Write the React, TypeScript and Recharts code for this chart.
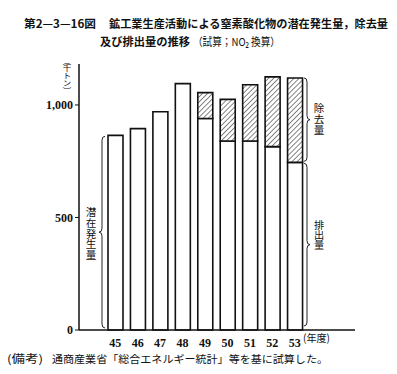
import React from "react";
import { BarChart, Bar, XAxis, YAxis } from "recharts";

// 年度（昭和）
const years = ["45", "46", "47", "48", "49", "50", "51", "52", "53"];
// 排出量（千トン）
const emission = [865, 895, 970, 1095, 940, 840, 840, 815, 745];
// 除去量（千トン）
const removal = [0, 0, 0, 0, 115, 185, 250, 310, 375];
const yTicks = [0, 500, 1000];

const data = years.map((year, i) => ({
  year,
  emission: emission[i],
  removal: removal[i],
}));

const W = 397;
const H = 374;
const PLOT_TOP = 64;
const PLOT_BOTTOM = 330;
const Y_MAX = 1182;
const toY = (v: number) => PLOT_BOTTOM - (v * (PLOT_BOTTOM - PLOT_TOP)) / Y_MAX;

const serif = "'Liberation Serif', 'DejaVu Serif', serif";
const gothic = "'Noto Sans CJK JP', 'Noto Sans', sans-serif";

// 縦の波括弧。dir=1 なら "{"、-1 なら "}"
const bracePath = (x: number, y0: number, y1: number, dir: number) => {
  const d = 3 * dir;
  const ym = (y0 + y1) / 2;
  return `M${x + d},${y0} Q${x},${y0} ${x},${y0 + 4} L${x},${ym - 4} Q${x},${ym} ${x - d},${ym} Q${x},${ym} ${x},${ym + 4} L${x},${y1 - 4} Q${x},${y1} ${x + d},${y1}`;
};

// 縦書き
const VText = ({ text, x, top, len, size }: { text: string; x: number; top: number; len: number; size: number }) => (
  <text
    x={x}
    y={top}
    textLength={len}
    lengthAdjust="spacingAndGlyphs"
    fontFamily={gothic}
    fontSize={size}
    fill="#111"
    style={{ writingMode: "vertical-rl" }}
  >
    {text}
  </text>
);

// 横書き、幅を固定
const HText = ({ text, x, y, w, size, weight = 400 }: { text: string; x: number; y: number; w: number; size: number; weight?: number }) => (
  <text
    x={x}
    y={y}
    textLength={w}
    lengthAdjust="spacingAndGlyphs"
    fontFamily={gothic}
    fontSize={size}
    fontWeight={weight}
    fill="#111"
  >
    {text}
  </text>
);

export default function App() {
  const last = years.length - 1;
  const total53 = emission[last] + removal[last];
  return (
    <div
      style={{
        position: "absolute",
        left: 0,
        top: 0,
        width: W,
        height: H,
        background: "#fff",
        overflow: "hidden",
      }}
    >
      <svg width={0} height={0} style={{ position: "absolute" }}>
        <defs>
          <pattern
            id="hatch"
            width={3.6}
            height={3.6}
            patternUnits="userSpaceOnUse"
            patternTransform="rotate(45)"
          >
            <rect width={3.6} height={3.6} fill="#fff" />
            <line x1={0} y1={0} x2={0} y2={3.6} stroke="#222" strokeWidth={1.1} />
          </pattern>
        </defs>
      </svg>

      <BarChart
        width={W}
        height={H}
        data={data}
        margin={{ top: PLOT_TOP, right: 42, bottom: 24, left: 0 }}
        barSize={15}
        style={{ position: "absolute", left: 0, top: 0 }}
      >
        <XAxis
          dataKey="year"
          height={20}
          padding={{ left: 25, right: 49 }}
          tickLine={false}
          tickMargin={2}
          axisLine={{ stroke: "#111", strokeWidth: 1.5 }}
          tick={{ fill: "#111", fontFamily: serif, fontSize: 12, fontWeight: 600 }}
        />
        <YAxis
          width={79}
          domain={[0, Y_MAX]}
          ticks={yTicks}
          interval={0}
          tickSize={4}
          tickMargin={2}
          tickFormatter={(v: number) => v.toLocaleString("en-US")}
          axisLine={{ stroke: "#111", strokeWidth: 1.5 }}
          tickLine={{ stroke: "#111" }}
          tick={{ fill: "#111", fontFamily: serif, fontSize: 12, fontWeight: 600 }}
        />
        <Bar
          dataKey="emission"
          stackId="a"
          fill="#fff"
          stroke="#111"
          strokeWidth={1.6}
          isAnimationActive={false}
        />
        <Bar
          dataKey="removal"
          stackId="a"
          fill="url(#hatch)"
          stroke="#111"
          strokeWidth={1.6}
          isAnimationActive={false}
        />
      </BarChart>

      <svg
        width={W}
        height={H}
        style={{ position: "absolute", left: 0, top: 0, pointerEvents: "none" }}
      >
        <HText text="第2—3—16図" x={24} y={28} w={72} size={11} weight={700} />
        <HText
          text="鉱工業生産活動による窒素酸化物の潜在発生量，除去量"
          x={109}
          y={28}
          w={279}
          size={11}
          weight={700}
        />
        <HText text="及び排出量の推移" x={100} y={46} w={90} size={11} weight={700} />
        <HText text="（試算；NO₂ 換算）" x={193} y={46} w={87} size={11} />

        <VText text="（千トン）" x={67} top={57} len={38} size={8.5} />

        <g fill="none" stroke="#222" strokeWidth={1}>
          <path d={bracePath(102, toY(emission[0]) + 1, PLOT_BOTTOM - 2, 1)} />
          <path d={bracePath(307, toY(total53), toY(emission[last]) - 1, -1)} />
          <path d={bracePath(307, toY(emission[last]) + 1, PLOT_BOTTOM - 4, -1)} />
        </g>

        <VText text="潜在発生量" x={91} top={207} len={53} size={10.6} />
        <VText text="除去量" x={319} top={103} len={32} size={10.6} />
        <VText text="排出量" x={319} top={220} len={30} size={10.2} />

        <HText text="(年度)" x={303} y={342} w={27} size={10.5} />

        <HText text="(備考)" x={7} y={363} w={36} size={11} />
        <HText
          text="通商産業省「総合エネルギー統計」等を基に試算した。"
          x={52}
          y={363}
          w={276}
          size={10.7}
        />
      </svg>
    </div>
  );
}
